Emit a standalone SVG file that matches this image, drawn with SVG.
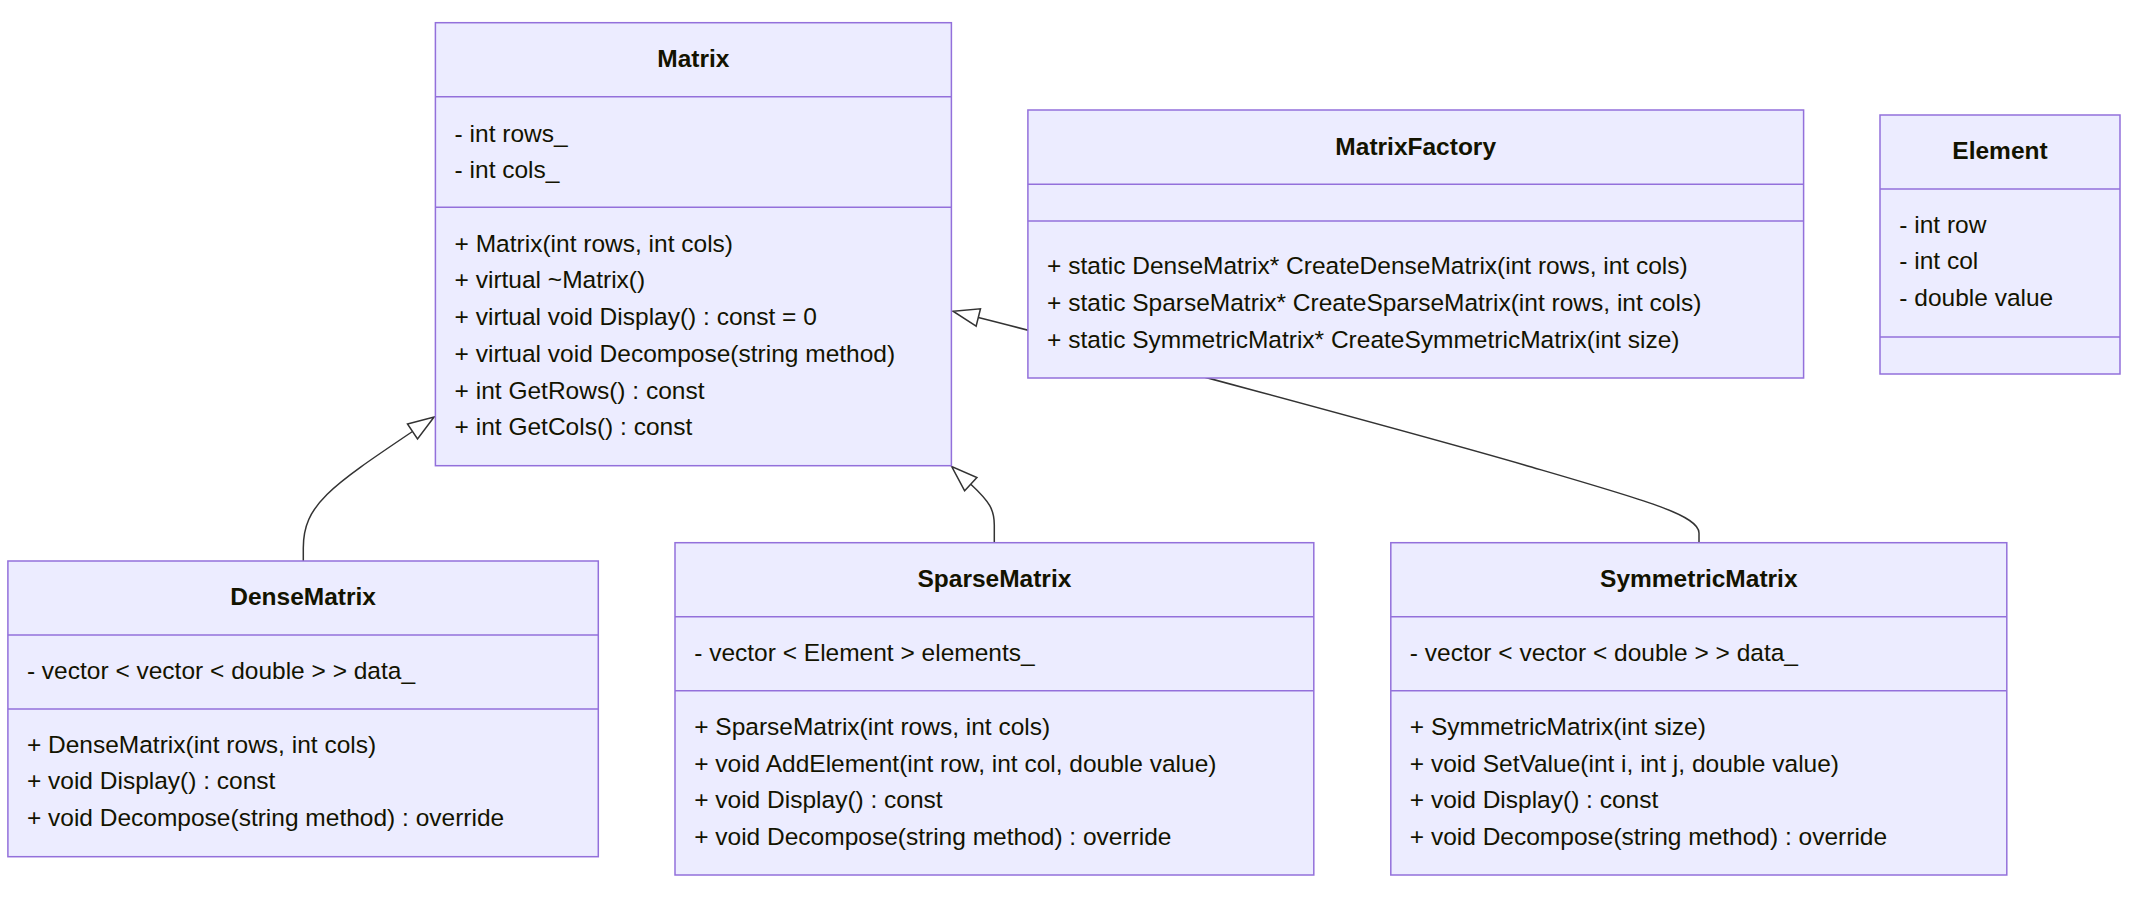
<svg xmlns="http://www.w3.org/2000/svg" width="2129" height="913" viewBox="0 0 2129 913">
<defs>
<style>
.box{fill:#ECECFF;stroke:#9370DB;stroke-width:1.5}
.dv{stroke:#9370DB;stroke-width:1.5;fill:none}
.t{font-family:"Liberation Sans",Arial,sans-serif;font-size:24.5px;fill:#131300}
.ti{font-weight:bold;text-anchor:middle}
.edge{fill:none;stroke:#333333;stroke-width:1.5}
</style>
<marker id="ext" markerUnits="userSpaceOnUse" markerWidth="30" markerHeight="22" viewBox="0 0 30 22" refX="1" refY="10" orient="auto" overflow="visible">
<path d="M1,1 L27,10 L1,19 Z" fill="#ffffff" stroke="#333333" stroke-width="1.5"/>
</marker>
</defs>
<rect width="2129" height="913" fill="#ffffff"/>
<g id="connectors">
<path class="edge" d="M303.3,561 L303.3,548 C303.3,505 330,487 412.5,431.5" marker-end="url(#ext)"/>
<path class="edge" d="M994.3,542.7 L994.3,525 C994.3,510 990,502 970.8,484.2" marker-end="url(#ext)"/>
<path class="edge" d="M1699,542.7 L1699,533 C1699,515 1644.4,500 1524.4,465 C1424.4,436 1078.3,342.5 978.3,317.5" marker-end="url(#ext)"/>
</g>
<g id="Matrix">
<rect class="box" x="435.4" y="22.7" width="516" height="443"/>
<line class="dv" x1="435.4" y1="96.7" x2="951.4" y2="96.7"/>
<line class="dv" x1="435.4" y1="207.3" x2="951.4" y2="207.3"/>
<text class="t ti" x="693.4" y="66.7">Matrix</text>
<text class="t" x="454.6" y="141.7">- int rows_</text>
<text class="t" x="454.6" y="178.3">- int cols_</text>
<text class="t" x="454.6" y="251.7">+ Matrix(int rows, int cols)</text>
<text class="t" x="454.6" y="288.4">+ virtual ~Matrix()</text>
<text class="t" x="454.6" y="325.1">+ virtual void Display() : const = 0</text>
<text class="t" x="454.6" y="361.8">+ virtual void Decompose(string method)</text>
<text class="t" x="454.6" y="398.5">+ int GetRows() : const</text>
<text class="t" x="454.6" y="435.2">+ int GetCols() : const</text>
</g>
<g id="MatrixFactory">
<rect class="box" x="1027.9" y="110" width="775.7" height="268"/>
<line class="dv" x1="1027.9" y1="184.3" x2="1803.6" y2="184.3"/>
<line class="dv" x1="1027.9" y1="221" x2="1803.6" y2="221"/>
<text class="t ti" x="1415.7" y="155">MatrixFactory</text>
<text class="t" x="1047.1" y="274.3">+ static DenseMatrix* CreateDenseMatrix(int rows, int cols)</text>
<text class="t" x="1047.1" y="311">+ static SparseMatrix* CreateSparseMatrix(int rows, int cols)</text>
<text class="t" x="1047.1" y="347.6">+ static SymmetricMatrix* CreateSymmetricMatrix(int size)</text>
</g>
<g id="Element">
<rect class="box" x="1880" y="115" width="240" height="259"/>
<line class="dv" x1="1880" y1="189" x2="2120" y2="189"/>
<line class="dv" x1="1880" y1="337" x2="2120" y2="337"/>
<text class="t ti" x="2000" y="159.3">Element</text>
<text class="t" x="1899.3" y="232.7">- int row</text>
<text class="t" x="1899.3" y="269.3">- int col</text>
<text class="t" x="1899.3" y="306">- double value</text>
</g>
<g id="DenseMatrix">
<rect class="box" x="7.9" y="561" width="590.4" height="295.7"/>
<line class="dv" x1="7.9" y1="635" x2="598.3" y2="635"/>
<line class="dv" x1="7.9" y1="709" x2="598.3" y2="709"/>
<text class="t ti" x="303.1" y="604.5">DenseMatrix</text>
<text class="t" x="26.9" y="678.5">- vector &lt; vector &lt; double &gt; &gt; data_</text>
<text class="t" x="26.9" y="752.5">+ DenseMatrix(int rows, int cols)</text>
<text class="t" x="26.9" y="789.2">+ void Display() : const</text>
<text class="t" x="26.9" y="825.9">+ void Decompose(string method) : override</text>
</g>
<g id="SparseMatrix">
<rect class="box" x="675" y="542.7" width="638.8" height="332.3"/>
<line class="dv" x1="675" y1="616.7" x2="1313.8" y2="616.7"/>
<line class="dv" x1="675" y1="690.7" x2="1313.8" y2="690.7"/>
<text class="t ti" x="994.4" y="586.7">SparseMatrix</text>
<text class="t" x="694.2" y="660.7">- vector &lt; Element &gt; elements_</text>
<text class="t" x="694.2" y="735">+ SparseMatrix(int rows, int cols)</text>
<text class="t" x="694.2" y="771.7">+ void AddElement(int row, int col, double value)</text>
<text class="t" x="694.2" y="808.4">+ void Display() : const</text>
<text class="t" x="694.2" y="845.1">+ void Decompose(string method) : override</text>
</g>
<g id="SymmetricMatrix">
<rect class="box" x="1390.8" y="542.7" width="616" height="332.3"/>
<line class="dv" x1="1390.8" y1="616.7" x2="2006.8" y2="616.7"/>
<line class="dv" x1="1390.8" y1="690.7" x2="2006.8" y2="690.7"/>
<text class="t ti" x="1698.8" y="586.7">SymmetricMatrix</text>
<text class="t" x="1409.8" y="660.7">- vector &lt; vector &lt; double &gt; &gt; data_</text>
<text class="t" x="1409.8" y="735">+ SymmetricMatrix(int size)</text>
<text class="t" x="1409.8" y="771.7">+ void SetValue(int i, int j, double value)</text>
<text class="t" x="1409.8" y="808.4">+ void Display() : const</text>
<text class="t" x="1409.8" y="845.1">+ void Decompose(string method) : override</text>
</g>
</svg>
